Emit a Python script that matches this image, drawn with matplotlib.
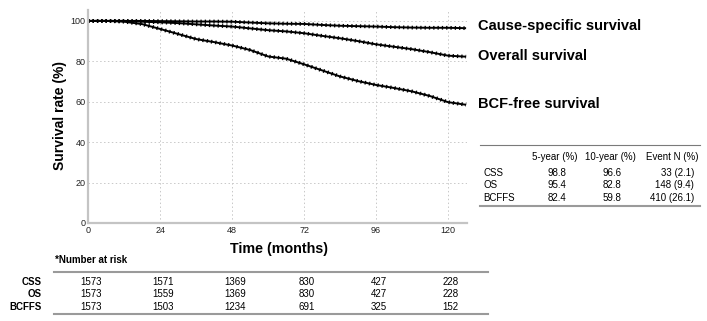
import numpy as np
import matplotlib
matplotlib.use("Agg")
import matplotlib.pyplot as plt
import matplotlib.transforms as mtransforms
from matplotlib.lines import Line2D

plt.rcParams['font.family'] = ['Liberation Sans', 'DejaVu Sans']

# Kaplan-Meier curves (months, %)
months = [0, 6, 12, 18, 24, 30, 36, 42, 48, 54, 60, 66, 72, 78, 84, 90, 96, 102, 108, 114, 120, 126]
css = [100, 100, 100, 100, 99.9, 99.8, 99.7, 99.7, 99.6, 99.2, 98.8, 98.6, 98.5, 98.0, 97.6,
       97.4, 97.2, 96.9, 96.7, 96.6, 96.6, 96.4]
os_ = [100, 100, 100, 99.6, 99.3, 98.9, 98.3, 97.7, 97.2, 96.3, 95.4, 94.8, 93.9, 92.6, 91.4,
       90.0, 88.4, 87.2, 86.0, 84.5, 82.8, 82.3]
bcffs = [100, 100, 99.6, 98.4, 96.0, 93.5, 91.0, 89.5, 87.8, 85.6, 82.4, 81.3, 78.5, 75.5, 72.5,
         70.2, 68.3, 66.8, 65.1, 62.8, 59.8, 58.5]
curve_labels = ['Cause-specific survival', 'Overall survival', 'BCF-free survival']

# number at risk table
risk_times = [0, 24, 48, 72, 96, 120]
risk_names = ['CSS', 'OS', 'BCFFS']
risk_css = [1573, 1571, 1369, 830, 427, 228]
risk_os = [1573, 1559, 1369, 830, 427, 228]
risk_bcffs = [1573, 1503, 1234, 691, 325, 152]

# summary table
tab_header = ['5-year (%)', '10-year (%)', 'Event N (%)']
tab_names = ['CSS', 'OS', 'BCFFS']
five_year = ['98.8', '95.4', '82.4']
ten_year = ['96.6', '82.8', '59.8']
events = ['33 (2.1)', '148 (9.4)', '410 (26.1)']

W, H = 707, 321


def fx(x):
    return x / W


def fy(y):
    return 1 - y / H


fig = plt.figure(figsize=(7.07, 3.21), dpi=100)
ax = fig.add_axes([fx(88.3), fy(223), fx(467) - fx(88.3), fy(10) - fy(223)])

for ys in [css, os_, bcffs]:
    ax.plot(months, ys, color='black', lw=1.4, solid_capstyle='butt')
    ax.plot(months, ys, color='black', lw=2.7, linestyle=(0, (0.35, 0.8)), dash_capstyle='butt')

ax.set_xlim(0, 126.3)
ax.set_ylim(0, 105.4)
ax.set_xticks(risk_times)
ax.set_yticks([0, 20, 40, 60, 80, 100])
ax.tick_params(length=0, labelsize=6.5, pad=2, labelcolor='#222222')
ax.grid(True, linestyle=(0, (1.5, 2.5)), color='#c8c8c8', lw=0.7)
for s in ['top', 'right']:
    ax.spines[s].set_visible(False)
for s in ['left', 'bottom']:
    ax.spines[s].set_color('#c4c4c4')
    ax.spines[s].set_linewidth(1.6)

fig.text(fx(60), fy(116), 'Survival rate (%)', rotation=90, ha='center', va='center',
         fontsize=10, fontweight='bold')
fig.text(fx(279), fy(249), 'Time (months)', ha='center', va='center',
         fontsize=10.3, fontweight='bold')

# curve labels
for lab, ypix in zip(curve_labels, [26, 56, 104]):
    fig.text(fx(478), fy(ypix), lab, ha='left', va='center', fontsize=10.5, fontweight='bold')

# right summary table
fig.add_artist(Line2D([fx(480), fx(700)], [fy(145), fy(145)], color='#7a7a7a', lw=0.8))
fig.add_artist(Line2D([fx(480), fx(700)], [fy(205.5), fy(205.5)], color='#9a9a9a', lw=1.5))
for txt, xc in zip(tab_header, [555, 610, 672]):
    fig.text(fx(xc), fy(157), txt, ha='center', va='center', fontsize=7)
for i, ypix in enumerate([173, 185, 198]):
    fig.text(fx(483), fy(ypix), tab_names[i], ha='left', va='center', fontsize=7)
    fig.text(fx(557), fy(ypix), five_year[i], ha='center', va='center', fontsize=7)
    fig.text(fx(612), fy(ypix), ten_year[i], ha='center', va='center', fontsize=7)
    fig.text(fx(694), fy(ypix), events[i], ha='right', va='center', fontsize=7)

# number at risk
fig.text(fx(55), fy(260), '*Number at risk', ha='left', va='center', fontsize=7, fontweight='bold')
fig.add_artist(Line2D([fx(54), fx(488)], [fy(271.7), fy(271.7)], color='#9a9a9a', lw=1.5))
fig.add_artist(Line2D([fx(54), fx(488)], [fy(314.3), fy(314.3)], color='#9a9a9a', lw=1.5))
trans = mtransforms.blended_transform_factory(ax.transData, fig.transFigure)
for name, vals, ypix in zip(risk_names, [risk_css, risk_os, risk_bcffs], [282.3, 294, 306.7]):
    fig.text(fx(42), fy(ypix), name, ha='right', va='center', fontsize=7, fontweight='bold')
    for t, v in zip(risk_times, vals):
        ax.text(t + 0.9, fy(ypix), str(v), transform=trans, ha='center', va='center',
                fontsize=7, clip_on=False)

fig.savefig('out.png', dpi=100)
